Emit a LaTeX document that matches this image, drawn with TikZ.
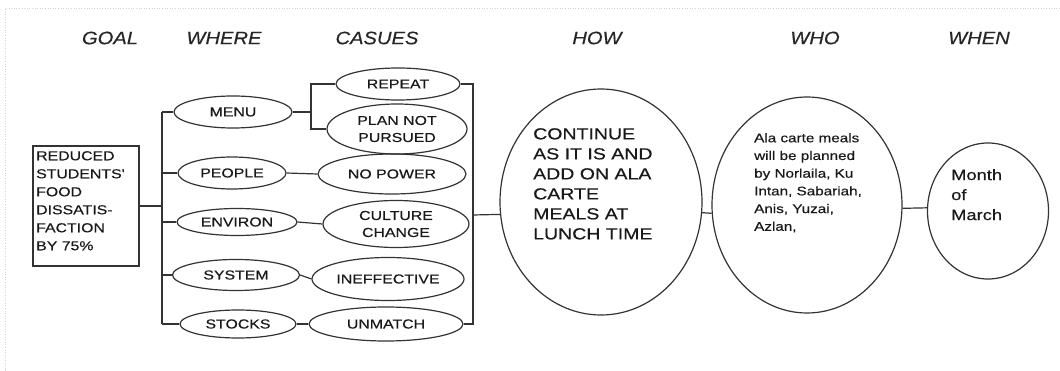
\documentclass[tikz,border=0pt]{standalone}
\usepackage{fontspec}
\setmainfont{Liberation Sans}
\newfontfamily\hdrfont[FakeStretch=1.12,FakeBold=0.4]{Liberation Sans}
\newfontfamily\bodyfont[FakeStretch=1.22,FakeBold=0.4]{Liberation Sans}
\usetikzlibrary{shapes.geometric}
\begin{document}
\begin{tikzpicture}[x=1pt,y=-1pt,
  ink/.style={draw=black!80,line width=1.2pt},
  hdr/.style={font=\hdrfont\itshape\fontsize{18}{20}\selectfont,text=black!85,inner sep=0pt},
  oval/.style={ink,ellipse,inner sep=0pt,align=center,
    font=\bodyfont\fontsize{13}{17}\selectfont,text=black!90},
  txt/.style={inner sep=0pt,align=left,anchor=north west,text=black!90}]
\useasboundingbox (0,0) rectangle (1060,371);
% faint scan border
\draw[gray!35,dotted,line width=0.6pt] (5,371) -- (5,8) -- (1060,8);

% headers
\node[hdr] (hgoal) at (110,38) {GOAL};
\node[hdr] (hwhere) at (224,38) {WHERE};
\node[hdr] (hcause) at (377,38) {CASUES};
\node[hdr] (hhow) at (597,38) {HOW};
\node[hdr] (hwho) at (815,38) {WHO};
\node[hdr] (hwhen) at (979,38) {WHEN};

% goal box
\node[ink,rectangle,minimum width=106pt,minimum height=120pt,inner sep=0pt] (goal) at (86,206) {};
\node[txt,font=\bodyfont\fontsize{13}{18}\selectfont] (goaltxt) at (36,151)
  {REDUCED\\STUDENTS'\\FOOD\\DISSATIS-\\FACTION\\BY 75\%};

% where
\node[oval,minimum width=118pt,minimum height=32pt] (menu) at (233,112) {MENU};
\node[oval,minimum width=108pt,minimum height=32pt] (people) at (232,173) {PEOPLE};
\node[oval,minimum width=120pt,minimum height=27pt] (environ) at (237,222) {ENVIRON};
\node[oval,minimum width=127pt,minimum height=31pt] (system) at (236,275) {SYSTEM};
\node[oval,minimum width=116pt,minimum height=28pt] (stocks) at (238,324) {STOCKS};

% causes
\node[oval,minimum width=124pt,minimum height=32pt] (repeat) at (398,84) {REPEAT};
\node[oval,minimum width=140pt,minimum height=50pt] (plan) at (397,129) {PLAN NOT\\PURSUED};
\node[oval,minimum width=148pt,minimum height=40pt] (nopower) at (392,174) {NO POWER};
\node[oval,minimum width=146pt,minimum height=47pt] (culture) at (396,224) {CULTURE\\CHANGE};
\node[oval,minimum width=152pt,minimum height=43pt] (ineff) at (388,279) {INEFFECTIVE};
\node[oval,minimum width=154pt,minimum height=34pt] (unmatch) at (386,324) {UNMATCH};

% how / who / when
\node[ink,ellipse,minimum width=202pt,minimum height=226pt,inner sep=0pt] (how) at (601,202) {};
\node[txt,font=\bodyfont\fontsize{16}{20}\selectfont] (howtxt) at (533,128)
  {CONTINUE\\AS IT IS AND\\ADD ON ALA\\CARTE\\MEALS AT\\LUNCH TIME};
\node[ink,ellipse,minimum width=190pt,minimum height=216pt,inner sep=0pt] (who) at (807,205) {};
\node[txt,font=\bodyfont\fontsize{12.5}{17.7}\selectfont] (whotxt) at (754,133)
  {Ala carte meals\\will be planned\\by Norlaila, Ku\\Intan, Sabariah,\\Anis, Yuzai,\\Azlan,};
\node[ink,ellipse,minimum width=121pt,minimum height=136pt,inner sep=0pt] (when) at (988,211) {};
\node[txt,font=\bodyfont\fontsize{15}{20}\selectfont] (whentxt) at (951,169)
  {Month\\of\\March};

% left trunk
\coordinate (ltop) at (162,112);
\coordinate (lbot) at (162,324);
\draw[ink] (ltop) -- (lbot);
\draw[ink] (goal.east) -- (goal.east -| ltop);
\draw[ink] (ltop) -- (menu.west);
\draw[ink] (people.west -| ltop) -- (people.west);
\draw[ink] (environ.west -| ltop) -- (environ.west);
\draw[ink] (system.west -| ltop) -- (system.west);
\draw[ink] (lbot) -- (stocks.west);

% menu bracket
\coordinate (mb) at (311,112);
\draw[ink] (menu.east) -- (mb);
\draw[ink] (repeat.west) -- (repeat.west -| mb) -- (plan.west -| mb) -- (plan.west);

% where -> causes
\draw[ink] (people.east) -- (nopower.west);
\draw[ink] (environ.east) -- (culture.west);
\draw[ink] (system.east) -- (ineff.west);
\draw[ink] (stocks.east) -- (unmatch.west);

% right trunk
\coordinate (rtop) at (473,84);
\coordinate (rbot) at (473,324);
\coordinate (rmid) at (473,215);
\draw[ink] (repeat.east) -- (rtop) -- (rbot) -- (unmatch.east);
\draw[ink] (rmid) -- (how.187);

% how -> who -> when
\draw[ink] (how.-6) -- (who.185);
\draw[ink] (who.-2) -- (when.177);
\end{tikzpicture}
\end{document}
